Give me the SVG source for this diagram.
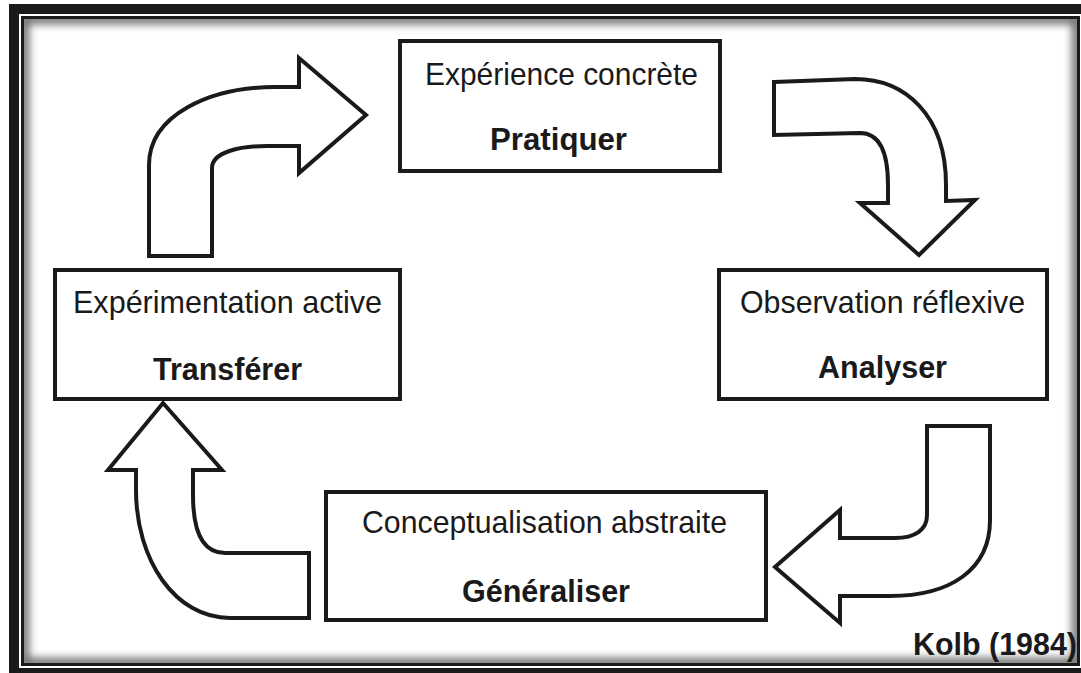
<svg xmlns="http://www.w3.org/2000/svg" width="1081" height="673" viewBox="0 0 1081 673">
  <style>
    .box { fill: #ffffff; stroke: #1a1a1a; stroke-width: 4; }
    .arrow { fill: #ffffff; stroke: #1a1a1a; stroke-width: 4; stroke-linejoin: miter; }
    .t1 { font-family: "Liberation Sans", Arial, sans-serif; font-size: 32px; fill: #1a1a1a; text-anchor: middle; }
    .t2 { font-family: "Liberation Sans", Arial, sans-serif; font-size: 32px; font-weight: bold; fill: #1a1a1a; text-anchor: middle; }
  </style>
  <defs>
    <clipPath id="inner">
      <rect x="24" y="19" width="1053" height="644"/>
    </clipPath>
    <filter id="blur" x="-5%" y="-5%" width="110%" height="110%">
      <feGaussianBlur stdDeviation="4"/>
    </filter>
  </defs>

  <g id="frame">
    <rect x="0" y="0" width="1081" height="673" fill="#ffffff"/>
    <path d="M9 4 H1081 V14 H19 V668 H1081 V673 H9 Z" fill="#1a1a1a"/>
    <rect x="22.5" y="17.5" width="1056" height="647" fill="#ffffff" stroke="#1a1a1a" stroke-width="3"/>
    <g clip-path="url(#inner)">
      <rect x="24" y="19" width="1053" height="644" fill="none" stroke="#6a6a6a" stroke-width="10" filter="url(#blur)"/>
    </g>
  </g>

  <g id="connectors">
    <path class="arrow" d="M149 256 L149 165 C149 115 210 87 275 87 L299 87 L299 58 L366 115 L299 173 L299 146 L267 146 C240 146 212 152 212 168 L212 256 Z"/>
    <path class="arrow" d="M774 82 L855 79 C905 79 946 115 946 185 L946 201 L975 200 L919 255 L860 203 L888 203 L888 185 C888 150 878 133 860 133 L774 135 Z"/>
    <path class="arrow" d="M927 426 L990 426 L990 520 C990 570 950 596 890 596 L840 596 L840 623 L775 567 L840 510 L840 538 L895 538 C915 538 927 530 927 515 Z"/>
    <path class="arrow" d="M309 553 L225 553 C205 553 193 535 193 495 L193 470 L222 470 L163 403 L108 470 L136 470 L136 490 C136 560 175 618 230 618 L309 618 Z"/>
  </g>

  <g id="node-experience">
    <rect class="box" x="400" y="41" width="320" height="130"/>
    <text class="t1" x="561.5" y="85" textLength="273" lengthAdjust="spacingAndGlyphs">Expérience concrète</text>
    <text class="t2" x="558.5" y="150" textLength="137" lengthAdjust="spacingAndGlyphs">Pratiquer</text>
  </g>

  <g id="node-observation">
    <rect class="box" x="719" y="270" width="328" height="129"/>
    <text class="t1" x="882.5" y="313" textLength="285" lengthAdjust="spacingAndGlyphs">Observation réflexive</text>
    <text class="t2" x="882.5" y="378" textLength="129" lengthAdjust="spacingAndGlyphs">Analyser</text>
  </g>

  <g id="node-experimentation">
    <rect class="box" x="55" y="270" width="345" height="129"/>
    <text class="t1" x="227.5" y="313" textLength="309" lengthAdjust="spacingAndGlyphs">Expérimentation active</text>
    <text class="t2" x="227.5" y="380" textLength="149" lengthAdjust="spacingAndGlyphs">Transférer</text>
  </g>

  <g id="node-conceptualisation">
    <rect class="box" x="326" y="492" width="440" height="128"/>
    <text class="t1" x="544.5" y="533" textLength="365" lengthAdjust="spacingAndGlyphs">Conceptualisation abstraite</text>
    <text class="t2" x="546" y="602" textLength="168" lengthAdjust="spacingAndGlyphs">Généraliser</text>
  </g>

  <g id="caption">
    <text x="913" y="655" font-family="'Liberation Sans', Arial, sans-serif" font-size="31" font-weight="bold" fill="#1a1a1a" textLength="164" lengthAdjust="spacingAndGlyphs">Kolb (1984)</text>
  </g>
</svg>
